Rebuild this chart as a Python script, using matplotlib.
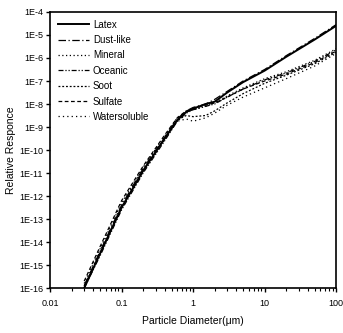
import matplotlib

matplotlib.use("Agg")
import matplotlib.pyplot as plt
import numpy as np
from matplotlib.ticker import FixedLocator, LogLocator, NullFormatter

# Particle diameter (um) sample points
diam = [0.03, 0.05, 0.1, 0.2, 0.4, 0.6, 0.8, 1.0, 1.5, 2, 3, 5, 10, 20, 50, 100]

# log10 of relative response
latex = [-16.0, -14.5, -12.5, -10.9, -9.5, -8.7, -8.35, -8.2, -8.0, -7.9, -7.5, -7.05, -6.55, -5.95, -5.2, -4.6]
dust = [-15.9, -14.4, -12.4, -10.8, -9.45, -8.65, -8.3, -8.15, -8.0, -7.8, -7.45, -7.0, -6.5, -5.9, -5.15, -4.55]
mineral = [-15.8, -14.3, -12.3, -10.75, -9.4, -8.6, -8.35, -8.25, -8.1, -7.95, -7.65, -7.3, -6.9, -6.6, -6.1, -5.6]
oceanic = [-16.0, -14.6, -12.6, -11.0, -9.6, -8.75, -8.4, -8.25, -8.1, -8.0, -7.7, -7.35, -6.95, -6.65, -6.15, -5.65]
soot = [-15.9, -14.5, -12.5, -10.9, -9.5, -8.7, -8.5, -8.55, -8.5, -8.3, -7.95, -7.55, -7.1, -6.75, -6.25, -5.75]
sulfate = [-15.7, -14.2, -12.2, -10.7, -9.35, -8.6, -8.3, -8.2, -8.05, -7.95, -7.7, -7.35, -7.0, -6.7, -6.2, -5.7]
watersoluble = [-16.0, -14.5, -12.5, -10.95, -9.55, -8.75, -8.65, -8.75, -8.6, -8.4, -8.05, -7.7, -7.3, -6.9, -6.35, -5.8]

series = [
    ("Latex", latex, "-", 1.4),
    ("Dust-like", dust, (0, (6, 2, 1, 2)), 0.9),
    ("Mineral", mineral, (0, (1, 2)), 0.9),
    ("Oceanic", oceanic, (0, (4, 1.5, 1, 1.5, 1, 1.5)), 0.9),
    ("Soot", soot, (0, (1.5, 1.5)), 0.9),
    ("Sulfate", sulfate, (0, (3, 2)), 0.9),
    ("Watersoluble", watersoluble, (0, (1, 2.5)), 0.9),
]

yticks = [1e-4, 1e-5, 1e-6, 1e-7, 1e-8, 1e-9, 1e-10, 1e-11, 1e-12, 1e-13, 1e-14, 1e-15, 1e-16]
ytick_labels = ["1E-4", "1E-5", "1E-6", "1E-7", "1E-8", "1E-9", "1E-10",
                "1E-11", "1E-12", "1E-13", "1E-14", "1E-15", "1E-16"]
xticks = [0.01, 0.1, 1, 10, 100]
xtick_labels = ["0.01", "0.1", "1", "10", "100"]

plt.rcParams["font.family"] = ["Liberation Sans", "DejaVu Sans"]

fig = plt.figure(figsize=(3.43, 3.33), dpi=100)
ax = fig.add_axes([0.146, 0.135, 0.834, 0.829])

for name, vals, ls, lw in series:
    ax.plot(diam, 10.0 ** np.array(vals), color="black", ls=ls, lw=lw, label=name)

ax.set_xscale("log")
ax.set_yscale("log")
ax.set_xlim(0.01, 100)
ax.set_ylim(1e-16, 1e-4)

ax.yaxis.set_major_locator(FixedLocator(yticks))
ax.set_yticklabels(ytick_labels)
ax.yaxis.set_minor_locator(FixedLocator([]))
ax.xaxis.set_major_locator(FixedLocator(xticks))
ax.set_xticklabels(xtick_labels)
ax.xaxis.set_minor_locator(LogLocator(base=10, subs=np.arange(2, 10)))
ax.xaxis.set_minor_formatter(NullFormatter())

ax.tick_params(which="major", direction="out", length=3, width=1, labelsize=6.5, pad=2)
ax.tick_params(axis="x", which="major", pad=5)
ax.tick_params(which="minor", direction="out", length=2, width=0.8)
for sp in ax.spines.values():
    sp.set_linewidth(1.2)

ax.set_xlabel("Particle Diameter(μm)", fontsize=7.5, labelpad=6)
ax.set_ylabel("Relative Responce", fontsize=7.5, labelpad=2)

ax.legend(loc="upper left", frameon=False, fontsize=7, handlelength=3.2,
          handletextpad=0.4, labelspacing=0.55, borderaxespad=0.4)

fig.savefig("out.png", dpi=100)
plt.close(fig)
